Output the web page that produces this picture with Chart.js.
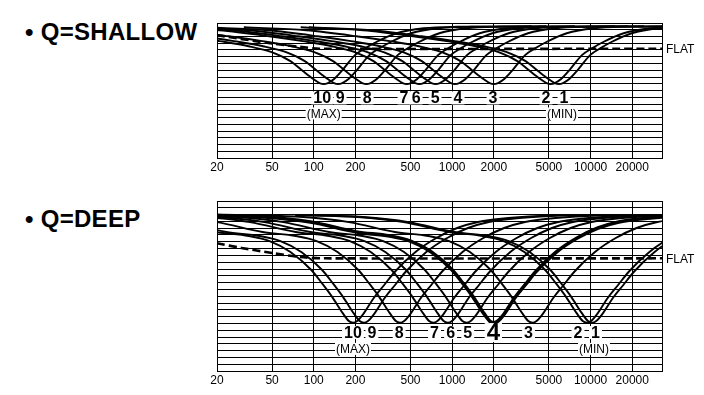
<!DOCTYPE html>
<html>
<head>
<meta charset="utf-8">
<script src="https://cdn.jsdelivr.net/npm/chart.js@4/dist/chart.umd.min.js"></script>
<style>
body{margin:0;background:#fff;width:704px;height:395px;overflow:hidden;position:relative;font-family:"Liberation Sans",Arial,sans-serif}
.ttl{position:absolute;left:25px;font-weight:bold;font-size:24px;line-height:24px;white-space:nowrap;color:#000;letter-spacing:0.3px}
canvas{position:absolute;left:0}
</style>
</head>
<body>
<div class="ttl" style="top:20px">• Q=SHALLOW</div>
<div class="ttl" style="top:207px">• Q=DEEP</div>
<canvas id="c1" width="704" height="180" style="top:0"></canvas>
<canvas id="c2" width="704" height="215" style="top:180px"></canvas>
<script>
// frequency axis
var freqTicks = [20, 50, 100, 200, 500, 1000, 2000, 5000, 10000, 20000, 32800];
var freqTickLabels = ['20', '50', '100', '200', '500', '1000', '2000', '5000', '10000', '20000', ''];
var bandNames = ['10', '9', '8', '7', '6', '5', '4', '3', '2', '1'];

// Q=SHALLOW  (notch centres, label spots, notch shape)
var shallowCenters = [118, 150, 240, 470, 580, 760, 1050, 2000, 5150, 5900];
var shallowLabelFreqs = [115, 155, 243, 449, 549, 753, 1103, 1974, 4764, 6426];
var shallowOctaves = [-6, -4.5, -3.3, -2.5, -1.8, -1.25, -0.8, -0.5, -0.25, -0.1, 0, 0.1, 0.25, 0.45, 0.75, 1, 1.25, 1.75, 2.4, 3.2, 5];
var shallowLevels = [-0.63, -1.08, -1.96, -2.69, -3.44, -4.32, -5.65, -7.12, -8.30, -8.89, -9.04, -8.89, -8.30, -6.98, -4.76, -3.73, -2.85, -1.52, -0.78, -0.56, -0.49];
var shallowFlatFreqs = [20, 50, 80, 110, 32800];
var shallowFlatLevels = [-1.81, -3.04, -3.54, -3.81, -3.81];

// Q=DEEP
var deepCenters = [192, 230, 420, 730, 930, 1270, 2000, 3800, 9400, 10250];
var deepLabelFreqs = [192, 263, 414, 746, 974, 1296, 1984, 3562, 8110, 10848];
var deepOctaves = [-7, -5.5, -4.4, -3.3, -2.5, -2, -1.5, -1, -0.75, -0.5, -0.25, -0.1, 0, 0.1, 0.25, 0.5, 0.75, 1, 1.5, 2, 2.5, 3, 3.5, 4.5, 6];
var deepLevels = [-2.05, -2.35, -3.1, -4.55, -5.15, -5.9, -7.5, -10.15, -12.05, -14.1, -16.45, -17.65, -17.9, -17.65, -16.6, -14.26, -12.35, -10.44, -7.5, -5.44, -3.97, -3.09, -2.65, -2.2, -2.05];
var deepFlatFreqs = [20, 30, 50, 80, 120, 32800];
var deepFlatLevels = [-6.22, -6.9, -7.65, -8.24, -8.43, -8.43];

var FONT = '"Liberation Sans", Arial, sans-serif';

function notchCurve(center, octaves, levels) {
  return octaves.map(function (o, i) {
    return { x: center * Math.pow(2, o), y: levels[i] };
  });
}

var bandLabels = {
  id: 'bandLabels',
  afterDraw: function (chart, args, opts) {
    var ctx = chart.ctx, xs = chart.scales.x, ys = chart.scales.y;
    ctx.save();
    ctx.textAlign = 'center';
    ctx.textBaseline = 'middle';
    var y = ys.getPixelForValue(opts.level);
    opts.names.forEach(function (name, i) {
      var big = i === opts.bigIndex;
      ctx.font = 'bold ' + (big ? 24 : 16) + 'px ' + FONT;
      var x = xs.getPixelForValue(opts.freqs[i]);
      var w = ctx.measureText(name).width + 4;
      var h = big ? 19 : 13;
      ctx.fillStyle = '#fff';
      ctx.fillRect(x - w / 2, y - h / 2, w, h);
      ctx.fillStyle = '#000';
      ctx.fillText(name, x, y + 1);
    });
    ctx.font = '12px ' + FONT;
    var y2 = ys.getPixelForValue(opts.subLevel);
    opts.subNames.forEach(function (name, i) {
      var x = xs.getPixelForValue(opts.subFreqs[i]);
      var w = ctx.measureText(name).width + 2;
      ctx.fillStyle = '#fff';
      ctx.fillRect(x - w / 2, y2 - 6, w, 12);
      ctx.fillStyle = '#000';
      ctx.fillText(name, x, y2 + 1);
    });
    // FLAT tag at right end of dashed line
    ctx.font = '12px ' + FONT;
    ctx.textAlign = 'left';
    ctx.fillText('FLAT', chart.chartArea.right + 4, ys.getPixelForValue(opts.flatLevel) + 1);
    ctx.restore();
  }
};

function makeChart(id, centers, octaves, levels, flatF, flatL, yMin, pad, labelOpts, boldIdx) {
  var sets = centers.map(function (c, i) {
    return {
      data: notchCurve(c, octaves, levels),
      borderColor: '#000',
      borderWidth: i === boldIdx ? 3.6 : 1.9,
      pointRadius: 0,
      cubicInterpolationMode: 'monotone',
      fill: false
    };
  });
  sets.push({
    data: flatF.map(function (f, i) { return { x: f, y: flatL[i] }; }),
    borderColor: '#000',
    borderWidth: 2.6,
    borderDash: [8, 4],
    pointRadius: 0,
    tension: 0.3,
    fill: false
  });
  return new Chart(document.getElementById(id), {
    type: 'line',
    data: { datasets: sets },
    plugins: [bandLabels],
    options: {
      responsive: false,
      animation: false,
      layout: { padding: pad },
      plugins: { legend: { display: false }, tooltip: { enabled: false }, bandLabels: labelOpts },
      scales: {
        x: {
          type: 'logarithmic',
          min: 20,
          max: 32800,
          afterBuildTicks: function (s) { s.ticks = freqTicks.map(function (v) { return { value: v }; }); },
          afterFit: function (s) { s.height = 20; },
          ticks: {
            autoSkip: false,
            maxRotation: 0,
            padding: 2,
            color: '#000',
            font: { size: 12, family: FONT },
            callback: function (v, i) { return freqTickLabels[i]; }
          },
          grid: { color: '#000', lineWidth: 1, drawTicks: false },
          border: { color: '#000', width: 1 }
        },
        y: {
          min: yMin,
          max: 0,
          afterFit: function (s) { s.width = 0; },
          ticks: { stepSize: 1, display: false },
          grid: { color: '#000', lineWidth: 1, drawTicks: false },
          border: { color: '#000', width: 1 }
        }
      }
    }
  });
}

makeChart('c1', shallowCenters, shallowOctaves, shallowLevels, shallowFlatFreqs, shallowFlatLevels, -20,
  { left: 217, right: 42, top: 23, bottom: 2 },
  { names: bandNames, freqs: shallowLabelFreqs, level: -11.1, bigIndex: -1,
    subNames: ['(MAX)', '(MIN)'], subFreqs: [118, 6214], subLevel: -13.4, flatLevel: -3.81 }, -1);

makeChart('c2', deepCenters, deepOctaves, deepLevels, deepFlatFreqs, deepFlatLevels, -25,
  { left: 217, right: 42, top: 21, bottom: 4 },
  { names: bandNames, freqs: deepLabelFreqs, level: -19.35, bigIndex: 6,
    subNames: ['(MAX)', '(MIN)'], subFreqs: [192, 10580], subLevel: -21.75, flatLevel: -8.43 }, 6);
</script>
</body>
</html>
